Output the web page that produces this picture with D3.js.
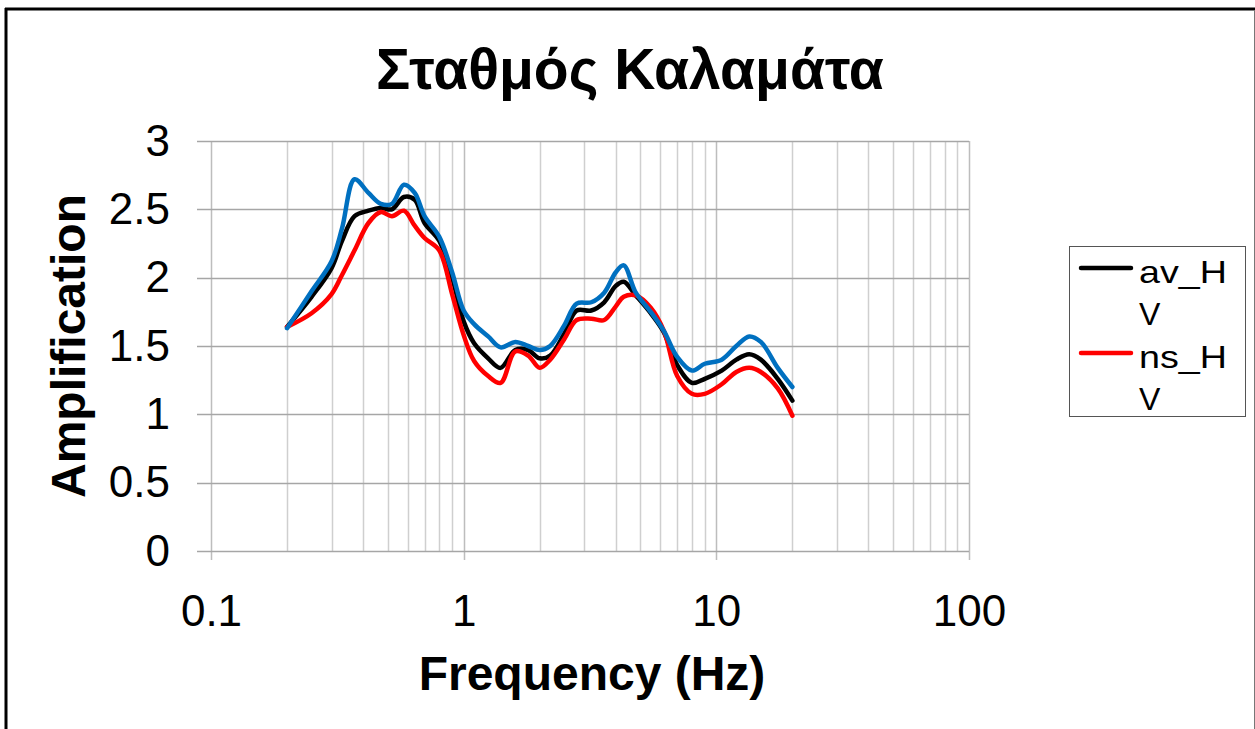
<!DOCTYPE html>
<html>
<head>
<meta charset="utf-8">
<script src="https://cdn.jsdelivr.net/npm/d3@7"></script>
<style>
  body { margin: 0; background: #fff; }
  text { font-family: "Liberation Sans", Arial, sans-serif; }
</style>
</head>
<body>
<script>
// frequencies (Hz) shared by all series
const freq = [0.2, 0.25, 0.3, 0.33, 0.37, 0.42, 0.47, 0.52, 0.58, 0.64, 0.7, 0.8, 0.9,
              1.0, 1.1, 1.25, 1.4, 1.6, 1.8, 2.0, 2.2, 2.5, 2.8, 3.2, 3.6, 4.0, 4.3, 4.8,
              5.5, 6.2, 7.0, 8.0, 9.0, 10.5, 12, 13.5, 15, 17.5, 20];

const av_HV = [1.64, 1.86, 2.07, 2.27, 2.45, 2.49, 2.51, 2.50, 2.59, 2.57, 2.40, 2.27, 2.00,
               1.68, 1.52, 1.41, 1.34, 1.47, 1.47, 1.41, 1.43, 1.59, 1.76, 1.76, 1.82, 1.94, 1.97, 1.87,
               1.74, 1.60, 1.36, 1.23, 1.26, 1.32, 1.40, 1.44, 1.40, 1.26, 1.10];

const ns_HV = [1.64, 1.74, 1.88, 2.02, 2.20, 2.40, 2.48, 2.45, 2.49, 2.38, 2.29, 2.20, 1.88,
               1.58, 1.39, 1.28, 1.23, 1.46, 1.43, 1.34, 1.40, 1.55, 1.69, 1.70, 1.69, 1.79, 1.86, 1.87,
               1.78, 1.61, 1.28, 1.15, 1.15, 1.22, 1.31, 1.34, 1.31, 1.19, 0.99];

const ew_HV = [1.63, 1.90, 2.12, 2.36, 2.72, 2.62, 2.54, 2.54, 2.68, 2.62, 2.45, 2.30, 2.04,
               1.76, 1.66, 1.57, 1.49, 1.53, 1.50, 1.47, 1.50, 1.65, 1.81, 1.82, 1.89, 2.04, 2.09, 1.89,
               1.75, 1.61, 1.42, 1.32, 1.37, 1.40, 1.50, 1.57, 1.53, 1.34, 1.20];

const yTicks = [0, 0.5, 1, 1.5, 2, 2.5, 3];
const xTicks = [0.1, 1, 10, 100];

const series = [
  {name: "av_HV", values: av_HV, color: "#000000", legend: true},
  {name: "ns_HV", values: ns_HV, color: "#ff0000", legend: true},
  {name: "ew_HV", values: ew_HV, color: "#0070c0", legend: false}
];

const W = 1255, H = 729;
const margin = {top: 141, left: 211, right: 286, bottom: 178};
const width = W - margin.left - margin.right,
      height = H - margin.top - margin.bottom;

const svg = d3.select("body").append("svg")
    .attr("width", W)
    .attr("height", H);

// outer frame
svg.append("line").attr("x1", 5).attr("x2", 1255).attr("y1", 9).attr("y2", 9)
    .attr("stroke", "#000").attr("stroke-width", 3);
svg.append("line").attr("x1", 6).attr("x2", 6).attr("y1", 8).attr("y2", H)
    .attr("stroke", "#000").attr("stroke-width", 3);
svg.append("line").attr("x1", 1254.5).attr("x2", 1254.5).attr("y1", 10).attr("y2", H)
    .attr("stroke", "#777").attr("stroke-width", 1);

const g = svg.append("g")
    .attr("transform", "translate(" + margin.left + "," + margin.top + ")");

const x = d3.scaleLog().domain([0.1, 100]).range([0, width]);
const y = d3.scaleLinear().domain([0, 3]).range([height, 0]);

// minor vertical gridlines
const minor = [];
[0.1, 1, 10].forEach(function(d) {
  for (let k = 2; k <= 9; k++) minor.push(d * k);
});
g.selectAll(".minor").data(minor).enter().append("line")
    .attr("x1", d => Math.round(x(d)) + 0.5).attr("x2", d => Math.round(x(d)) + 0.5)
    .attr("y1", 0).attr("y2", height)
    .attr("stroke", "#cfcfcf").attr("stroke-width", 1.5);

// major vertical gridlines + tick marks
g.selectAll(".major").data(xTicks).enter().append("line")
    .attr("x1", d => Math.round(x(d)) + 0.5).attr("x2", d => Math.round(x(d)) + 0.5)
    .attr("y1", 0).attr("y2", height + 9)
    .attr("stroke", "#bdbdbd").attr("stroke-width", 1.5);

// horizontal gridlines + tick marks
g.selectAll(".hgrid").data(yTicks).enter().append("line")
    .attr("x1", -14).attr("x2", width)
    .attr("y1", d => Math.round(y(d)) + 0.5).attr("y2", d => Math.round(y(d)) + 0.5)
    .attr("stroke", "#a6a6a6").attr("stroke-width", 1.5);

// axes labels
const xAxis = g.append("g")
    .attr("transform", "translate(0," + height + ")")
    .call(d3.axisBottom(x).tickValues(xTicks).tickFormat(d3.format("")).tickSize(0).tickPadding(44));
const yAxis = g.append("g")
    .call(d3.axisLeft(y).tickValues(yTicks).tickFormat(d3.format("")).tickSize(0).tickPadding(41));
[xAxis, yAxis].forEach(function(a) {
  a.select(".domain").remove();
  a.selectAll("text").attr("font-size", 44).attr("font-family", "Liberation Sans, Arial, sans-serif").attr("fill", "#000");
});

// lines
const line = d3.line()
    .x(d => x(d[0]))
    .y(d => y(d[1]))
    .curve(d3.curveCatmullRom.alpha(0.5));

series.forEach(function(s) {
  g.append("path")
    .datum(freq.map((f, i) => [f, s.values[i]]))
    .attr("fill", "none")
    .attr("stroke", s.color)
    .attr("stroke-width", 4.5)
    .attr("stroke-linejoin", "round")
    .attr("stroke-linecap", "round")
    .attr("d", line);
});

// title
svg.append("text")
    .attr("x", 630).attr("y", 89)
    .attr("text-anchor", "middle")
    .attr("font-size", 57).attr("font-weight", "bold")
    .text("Σταθμός Καλαμάτα");

// axis titles
svg.append("text")
    .attr("x", margin.left + width / 2 + 2).attr("y", 690)
    .attr("text-anchor", "middle")
    .attr("font-size", 48).attr("font-weight", "bold")
    .text("Frequency (Hz)");

svg.append("text")
    .attr("transform", "translate(85,346) rotate(-90)")
    .attr("text-anchor", "middle")
    .attr("font-size", 48).attr("font-weight", "bold")
    .text("Amplification");

// legend
const lg = svg.append("g").attr("transform", "translate(1069,246)");
lg.append("rect").attr("x", 0.5).attr("y", 0.5).attr("width", 176).attr("height", 170)
    .attr("fill", "#fff").attr("stroke", "#555").attr("stroke-width", 1);
const items = series.filter(s => s.legend);
items.forEach(function(s, i) {
  const yy = 22 + i * 85;
  lg.append("line").attr("x1", 12).attr("x2", 62).attr("y1", yy).attr("y2", yy)
    .attr("stroke", s.color).attr("stroke-width", 4.5).attr("stroke-linecap", "round");
  const parts = [s.name.slice(0, 4), s.name.slice(4)];
  parts.forEach(function(p, j) {
    const t = lg.append("text").attr("x", 70).attr("y", yy + 15 + j * 42)
      .attr("font-size", 32).text(p);
    if (j === 0) t.attr("textLength", 88).attr("lengthAdjust", "spacingAndGlyphs");
  });
});
</script>
</body>
</html>
